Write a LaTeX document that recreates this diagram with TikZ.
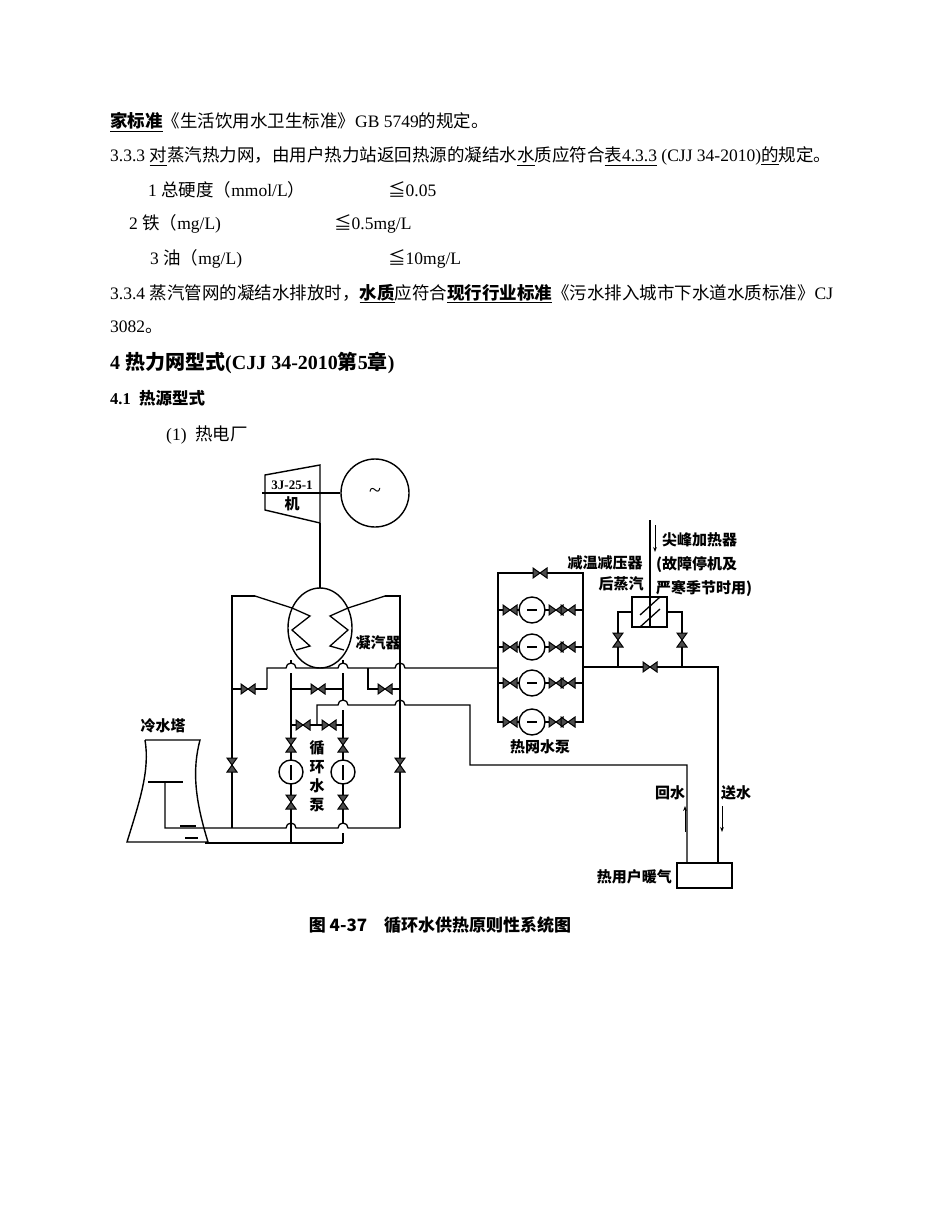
\documentclass[tikz,border=0pt]{standalone}
\usepackage{fontspec}
\setmainfont{Liberation Serif}
\newfontfamily\cjk{Noto Sans CJK SC}
\usetikzlibrary{arrows.meta}
\newcommand{\C}[1]{{\cjk #1}}
\newcommand{\vH}[2]{\draw[valve] (#1-7,#2-5)--(#1+7,#2+5)--(#1+7,#2-5)--(#1-7,#2+5)--cycle;}
\newcommand{\vV}[2]{\draw[valve] (#1-5,#2-7)--(#1+5,#2+7)--(#1-5,#2+7)--(#1+5,#2-7)--cycle;}
\begin{document}
\begin{tikzpicture}[x=1pt,y=-1pt,
  txt/.style={anchor=base west,inner sep=0pt,font=\fontsize{17.5}{20}\selectfont},
  lab/.style={inner sep=0pt,font=\fontsize{15}{17}\selectfont\cjk\bfseries},
  pipe/.style={line width=1.3pt},
  valve/.style={line width=1pt,fill=black!70},
  equip/.style={line width=1.4pt,fill=white}]
\useasboundingbox (0,0) rectangle (950,1230);
% text
\node[txt] (t1) at (110,128) {\underline{\C{\bfseries 家标准}}\C{《生活饮用水卫生标准》}GB 5749\C{的规定。}};
\node[txt] (t2) at (110,162) {3.3.3 \underline{\C{对}}\C{蒸汽热力网，由用户热力站返回热源的凝结水}\underline{\C{水}}\C{质应符合}\underline{\C{表}4.3.3} (CJJ 34-2010)\underline{\C{的}}\C{规定。}};
\node[txt] (t3) at (148,197) {1 \C{总硬度（}mmol/L\C{）}};
\node[txt] (t3b) at (388,197) {\C{≦}0.05};
\node[txt] (t4) at (129,230) {2 \C{铁（}mg/L)};
\node[txt] (t4b) at (334,230) {\C{≦}0.5mg/L};
\node[txt] (t5) at (150,265) {3 \C{油（}mg/L)};
\node[txt] (t5b) at (388,265) {\C{≦}10mg/L};
\node[txt] (t6) at (110,299) {3.3.4 \C{蒸汽管网的凝结水排放时，}\underline{\C{\bfseries 水质}}\C{应符合}\underline{\C{\bfseries 现行行业标准}}\C{《污水排入城市下水道水质标准》}CJ};
\node[txt] (t7) at (110,332) {3082\C{。}};
\node[txt,font=\fontsize{20}{22}\selectfont\bfseries] (h1) at (110,369) {4 \C{热力网型式}(CJJ 34-2010\C{第}5\C{章})};
\node[txt,font=\fontsize{16.5}{18}\selectfont\bfseries] (h2) at (110,404) {4.1\ \ \C{热源型式}};
\node[txt] (t8) at (166,440) {(1)\ \ \C{热电厂}};
% turbine & generator
\draw[pipe] (262,493) -- (340,493);
\draw[equip,fill=none] (265,475) -- (320,465) -- (320,523) -- (265,510) -- cycle;
\node[inner sep=0pt,font=\fontsize{13}{14}\selectfont\bfseries] (tb) at (292,485) {3J-25-1};
\node[lab] (tb2) at (292,504) {机};
\draw[equip] (375,493) circle (34);
\node[inner sep=0pt,font=\fontsize{22}{22}\selectfont] (gen) at (375,493) {\textasciitilde};
\draw[pipe] (320,523) -- (320,588);
% condenser
\draw[pipe] (255,596) -- (292,608);
\draw[pipe] (385,596) -- (348,608);
\draw[equip] (320,628) ellipse (32 and 40);
\draw[pipe] (292,608)--(310,616)--(292,630)--(310,646)--(296,650);
\draw[pipe] (348,608)--(330,616)--(348,630)--(330,646)--(344,650);
\node[lab] (cond) at (378,643) {凝汽器};
% outer left / right loops
\draw[pipe] (255,596) -- (232,596) -- (232,828);
\draw[pipe] (385,596) -- (400,596) -- (400,828);
\vV{232}{765} \vV{400}{765}
% main horizontal y=668 with crossovers
\draw[pipe] (267,689) -- (267,668) -- (286,668) arc[start angle=180,end angle=360,radius=5] -- (338,668) arc[start angle=180,end angle=360,radius=5] -- (395,668) arc[start angle=180,end angle=360,radius=5] -- (498,668);
\draw[pipe] (267,689) -- (232,689); \vH{248}{689}
\draw[pipe] (368,668) -- (368,689) -- (400,689); \vH{385}{689}
% pump verticals
\draw[pipe] (291,660) -- (291,663); \draw[pipe] (291,673) -- (291,843);
\draw[pipe] (343,660) -- (343,663); \draw[pipe] (343,673) -- (343,700); \draw[pipe] (343,710) -- (343,823); \draw[pipe] (343,833)--(343,843);
\draw[pipe] (291,689) -- (343,689); \vH{318}{689}
% second horizontal y=705
\draw[pipe] (317,725) -- (317,705) -- (338,705) arc[start angle=180,end angle=360,radius=5] -- (395,705) arc[start angle=180,end angle=360,radius=5] -- (470,705) -- (470,765) -- (687,765) -- (687,863);
\draw[pipe] (291,725) -- (343,725); \vH{303}{725} \vH{329}{725}
\vV{291}{745} \vV{343}{745} \vV{291}{802} \vV{343}{802}
\draw[equip] (291,772) circle (12); \draw[equip] (343,772) circle (12);
\draw[pipe] (291,765) -- (291,780); \draw[pipe] (343,765)--(343,780);
\node[lab,align=center,font=\fontsize{15}{19}\selectfont\cjk\bfseries] (pumplab) at (317,776) {循\\环\\水\\泵};
% cooling tower
\draw[equip,fill=none] (145,740) -- (200,740) .. controls (192,770) and (195,800) .. (208,842) -- (127,842) .. controls (140,800) and (150,770) .. (145,740);
\draw[pipe] (148,782) -- (183,782);
\draw[pipe] (165,782) -- (165,828) -- (286,828) arc[start angle=180,end angle=360,radius=5] -- (338,828) arc[start angle=180,end angle=360,radius=5] -- (400,828);
\draw[pipe] (205,843) -- (343,843);
\draw[line width=2pt] (180,826)--(196,826) (185,838)--(198,838);
\node[lab] (ct) at (163,726) {冷水塔};
% heat network pumps
\draw[pipe] (498,573) rectangle (583,722);
\vH{540}{573}
\foreach \yy/\nm in {610/a,647/b,683/c,722/d}{
  \draw[pipe] (498,\yy) -- (583,\yy);
  \vH{510}{\yy} \vH{556}{\yy} \vH{568}{\yy}
  \draw[equip] (532,\yy) circle (13);
  \draw[pipe] (527,\yy) -- (537,\yy);
}
\node[lab] (hp) at (540,747) {热网水泵};
% peak heater
\draw[pipe] (583,667) -- (718,667) -- (718,863);
\vH{650}{667}
\draw[pipe] (618,667) -- (618,612) -- (632,612);
\draw[pipe] (682,667) -- (682,612) -- (667,612);
\vV{618}{640} \vV{682}{640}
\draw[equip] (632,597) rectangle (667,627);
\draw[pipe] (650,597) -- (650,627);
\draw[pipe] (640,615) -- (660,597) (640,627) -- (660,609);
\draw[pipe] (650,520) -- (650,597);
\draw[-{Stealth[length=5pt]},line width=1pt] (655,525) -- (655,552);
\node[lab,anchor=west] (pk1) at (662,540) {尖峰加热器};
\node[lab,anchor=west] (pk2) at (656,565) {(故障停机及};
\node[lab,anchor=west] (pk3) at (656,588) {严寒季节时用)};
\node[lab] (ds1) at (605,563) {减温减压器};
\node[lab] (ds2) at (621,584) {后蒸汽};
% user
\draw[equip] (677,863) rectangle (732,888);
\node[lab,anchor=east] (user) at (672,877) {热用户暖气};
\node[lab] (hs) at (670,793) {回水};
\node[lab] (ss) at (736,793) {送水};
\draw[-{Stealth[length=5pt]},line width=1pt] (685,832) -- (685,806);
\draw[-{Stealth[length=5pt]},line width=1pt] (722,806) -- (722,832);
% caption
\node[inner sep=0pt,font=\fontsize{17}{20}\selectfont\cjk\bfseries] (cap) at (440,925) {图 4-37\quad 循环水供热原则性系统图};
\end{tikzpicture}
\end{document}
